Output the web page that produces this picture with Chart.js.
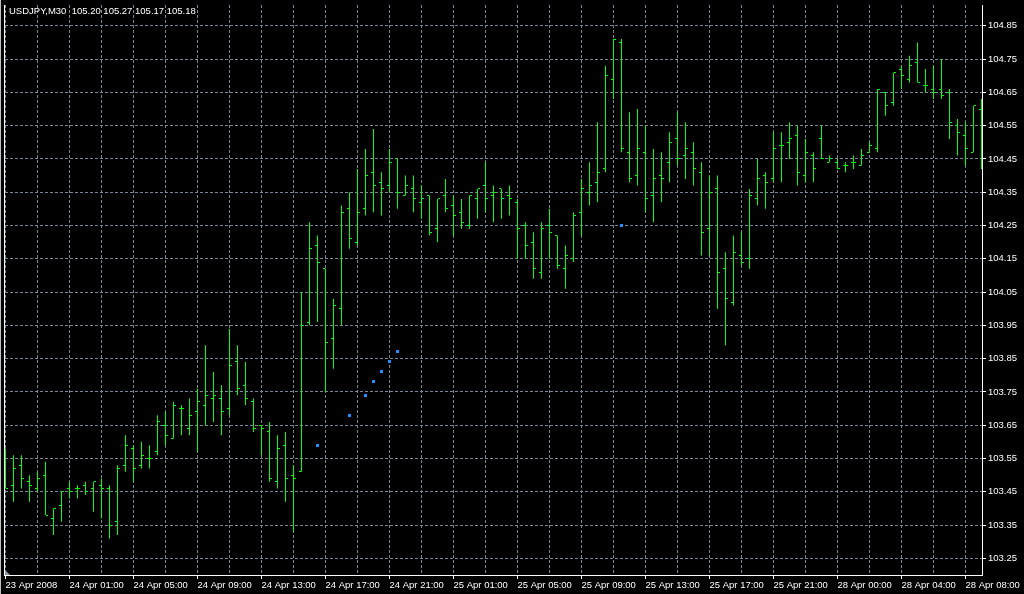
<!DOCTYPE html>
<html>
<head>
<meta charset="utf-8">
<title>USDJPY,M30</title>
<script src="https://cdn.jsdelivr.net/npm/chart.js@4.4.0/dist/chart.umd.min.js"></script>
<style>
  html, body { margin: 0; padding: 0; background: #000; }
  canvas { display: block; }
</style>
</head>
<body>
<canvas id="chart" width="1024" height="594"></canvas>
<script>
const symbolTitle = "USDJPY,M30  105.20 105.27 105.17 105.18";

// M30 bars, oldest first (23 Apr 21:00 ... 28 Apr 09:00)
const opens = [
  103.50, 103.47, 103.53, 103.48, 103.46, 103.50, 103.37, 103.41, 103.46, 103.46,
  103.47, 103.46, 103.47, 103.46, 103.36, 103.53, 103.58, 103.53, 103.55, 103.57,
  103.65, 103.61, 103.70, 103.64, 103.69, 103.71, 103.73, 103.73, 103.70, 103.84,
  103.77, 103.72, 103.65, 103.63, 103.48, 103.59, 103.50, 103.51, 103.96, 104.19,
  104.12, 103.91, 104.00, 104.30, 104.20, 104.30, 104.41, 104.38, 104.37, 104.45,
  104.34, 104.36, 104.32, 104.34, 104.24, 104.34, 104.31, 104.29, 104.25, 104.33,
  104.37, 104.34, 104.36, 104.34, 104.32, 104.25, 104.20, 104.11, 104.25, 104.22,
  104.12, 104.15, 104.29, 104.35, 104.38, 104.42, 104.69, 104.80, 104.47, 104.40,
  104.47, 104.34, 104.40, 104.44, 104.51, 104.46, 104.47, 104.41, 104.24, 104.36,
  104.12, 104.02, 104.16, 104.15, 104.33, 104.40, 104.39, 104.49, 104.50, 104.52,
  104.40, 104.46, 104.51, 104.44, 104.44, 104.43, 104.44, 104.43, 104.47, 104.48,
  104.65, 104.62, 104.72, 104.69, 104.74, 104.67, 104.66, 104.66, 104.65, 104.55,
  104.52, 104.47, 104.60
];
const highs = [
  103.58, 103.56, 103.56, 103.50, 103.51, 103.54, 103.40, 103.45, 103.48, 103.47,
  103.48, 103.48, 103.49, 103.47, 103.53, 103.62, 103.59, 103.60, 103.59, 103.68,
  103.69, 103.72, 103.71, 103.73, 103.76, 103.89, 103.81, 103.77, 103.94, 103.89,
  103.84, 103.73, 103.65, 103.66, 103.62, 103.63, 103.53, 104.05, 104.26, 104.22,
  104.12, 104.03, 104.31, 104.35, 104.42, 104.48, 104.54, 104.41, 104.48, 104.45,
  104.40, 104.40, 104.37, 104.34, 104.33, 104.39, 104.34, 104.33, 104.34, 104.36,
  104.44, 104.37, 104.36, 104.37, 104.33, 104.26, 104.23, 104.26, 104.30, 104.22,
  104.19, 104.29, 104.39, 104.44, 104.56, 104.73, 104.81, 104.81, 104.59, 104.60,
  104.55, 104.48, 104.47, 104.53, 104.59, 104.56, 104.50, 104.44, 104.40, 104.40,
  104.17, 104.22, 104.23, 104.36, 104.45, 104.41, 104.53, 104.53, 104.56, 104.55,
  104.51, 104.47, 104.55, 104.46, 104.45, 104.44, 104.46, 104.48, 104.50, 104.66,
  104.65, 104.71, 104.73, 104.76, 104.80, 104.72, 104.73, 104.75, 104.66, 104.57,
  104.56, 104.61, 104.63
];
const lows = [
  103.46, 103.42, 103.46, 103.42, 103.45, 103.38, 103.32, 103.36, 103.43, 103.43,
  103.44, 103.39, 103.37, 103.31, 103.32, 103.51, 103.48, 103.52, 103.52, 103.56,
  103.59, 103.61, 103.62, 103.62, 103.57, 103.65, 103.66, 103.62, 103.68, 103.74,
  103.71, 103.63, 103.56, 103.48, 103.46, 103.42, 103.33, 103.51, 103.95, 103.96,
  103.75, 103.82, 103.95, 104.18, 104.19, 104.28, 104.29, 104.28, 104.35, 104.30,
  104.34, 104.29, 104.27, 104.22, 104.20, 104.29, 104.22, 104.24, 104.24, 104.27,
  104.29, 104.26, 104.27, 104.28, 104.15, 104.15, 104.09, 104.09, 104.15, 104.12,
  104.06, 104.14, 104.22, 104.31, 104.32, 104.41, 104.63, 104.47, 104.38, 104.37,
  104.29, 104.26, 104.32, 104.38, 104.43, 104.39, 104.37, 104.16, 104.16, 104.00,
  103.89, 104.01, 104.13, 104.12, 104.31, 104.30, 104.38, 104.38, 104.45, 104.37,
  104.38, 104.38, 104.45, 104.44, 104.42, 104.41, 104.42, 104.43, 104.47, 104.47,
  104.58, 104.61, 104.66, 104.68, 104.68, 104.65, 104.63, 104.63, 104.51, 104.46,
  104.43, 104.47, 104.42
];
const closes = [
  103.46, 103.52, 103.49, 103.47, 103.49, 103.38, 103.40, 103.45, 103.45, 103.46,
  103.45, 103.48, 103.46, 103.35, 103.52, 103.59, 103.52, 103.56, 103.55, 103.66,
  103.62, 103.71, 103.70, 103.68, 103.72, 103.74, 103.74, 103.69, 103.83, 103.76,
  103.73, 103.64, 103.64, 103.49, 103.58, 103.49, 103.49, 103.95, 104.18, 104.14,
  103.90, 104.01, 104.29, 104.21, 104.29, 104.40, 104.37, 104.36, 104.44, 104.35,
  104.37, 104.33, 104.33, 104.23, 104.33, 104.30, 104.28, 104.26, 104.34, 104.36,
  104.33, 104.35, 104.33, 104.33, 104.24, 104.19, 104.12, 104.24, 104.23, 104.13,
  104.16, 104.28, 104.36, 104.37, 104.41, 104.70, 104.81, 104.48, 104.39, 104.48,
  104.33, 104.39, 104.39, 104.50, 104.45, 104.48, 104.42, 104.23, 104.35, 104.11,
  104.03, 104.17, 104.14, 104.34, 104.39, 104.38, 104.48, 104.49, 104.51, 104.41,
  104.47, 104.42, 104.45, 104.45, 104.42, 104.43, 104.44, 104.46, 104.49, 104.66,
  104.61, 104.71, 104.70, 104.73, 104.68, 104.67, 104.65, 104.64, 104.56, 104.53,
  104.48, 104.61, 104.60
];

// blue indicator dots (bar index, price)
const sarIndex = [39, 43, 45, 46, 47, 48, 49, 77];
const sarValues = [103.59, 103.68, 103.74, 103.78, 103.81, 103.84, 103.87, 104.25];

// one label every 8 bars (4 hours), grid every 4 bars
const timeLabels = [
  "23 Apr 2008", "24 Apr 01:00", "24 Apr 05:00", "24 Apr 09:00", "24 Apr 13:00",
  "24 Apr 17:00", "24 Apr 21:00", "25 Apr 01:00", "25 Apr 05:00", "25 Apr 09:00",
  "25 Apr 13:00", "25 Apr 17:00", "25 Apr 21:00", "28 Apr 00:00", "28 Apr 04:00",
  "28 Apr 08:00"
];
const priceTicks = [
  103.25, 103.35, 103.45, 103.55, 103.65, 103.75, 103.85, 103.95,
  104.05, 104.15, 104.25, 104.35, 104.45, 104.55, 104.65, 104.75, 104.85
];

const BAR_COLOR = "#00ff00";
const GRID_COLOR = "#778899";
const TEXT_FONT = { family: "'Liberation Sans', Arial, sans-serif", size: 9.5 };

// little sprites so open/close ticks stay 1px sharp
function makeSprite(w, h, fill) {
  const c = document.createElement("canvas");
  c.width = w; c.height = h;
  const g = c.getContext("2d");
  g.fillStyle = fill.color;
  g.fillRect(fill.x, 0, fill.w, h);
  return c;
}
const openTick = makeSprite(5, 1, { color: BAR_COLOR, x: 0, w: 2 });
const closeTick = makeSprite(5, 1, { color: BAR_COLOR, x: 3, w: 2 });
const sarDot = makeSprite(3, 3, { color: "#1e90ff", x: 0, w: 3 });

const rangeData = highs.map((h, i) => ({ x: i, y: [lows[i], h] }));
const openData = opens.map((v, i) => ({ x: i, y: v }));
const closeData = closes.map((v, i) => ({ x: i, y: v }));
const sarData = sarIndex.map((k, i) => ({ x: k, y: sarValues[i] }));

const chartFrame = {
  id: "chartFrame",
  beforeDraw(chart) {
    const ctx = chart.ctx;
    ctx.fillStyle = "#000";
    ctx.fillRect(0, 0, chart.width, chart.height);
    ctx.imageSmoothingEnabled = false;
  },
  afterDraw(chart) {
    const { ctx, chartArea } = chart;
    const left = chartArea.left - 1;
    ctx.save();
    // window edge + left frame line
    ctx.fillStyle = "#c0c0c0";
    ctx.fillRect(0, 0, 1, chart.height);
    ctx.fillStyle = "#fff";
    ctx.fillRect(left, chartArea.top, 1, chartArea.bottom - chartArea.top + 1);
    // chart shift marker
    ctx.fillStyle = "#8a9bb0";
    ctx.beginPath();
    ctx.moveTo(left + 1, chartArea.bottom - 5);
    ctx.lineTo(left + 1, chartArea.bottom);
    ctx.lineTo(left + 6, chartArea.bottom);
    ctx.closePath();
    ctx.fill();
    ctx.fillStyle = "#fff";
    ctx.font = TEXT_FONT.size + "px " + TEXT_FONT.family;
    ctx.textBaseline = "alphabetic";
    ctx.fillText(symbolTitle, 9, 14);
    ctx.restore();
  }
};

new Chart(document.getElementById("chart"), {
  type: "bar",
  data: {
    datasets: [
      { type: "bar", data: rangeData, backgroundColor: BAR_COLOR, borderWidth: 0, barThickness: 1, inflateAmount: 0, clip: 0 },
      { type: "scatter", data: openData, pointStyle: openTick, pointRadius: 2, clip: 0 },
      { type: "scatter", data: closeData, pointStyle: closeTick, pointRadius: 2, clip: 0 },
      { type: "scatter", data: sarData, pointStyle: sarDot, pointRadius: 2, clip: 0 }
    ]
  },
  options: {
    responsive: false,
    animation: false,
    events: [],
    layout: { padding: { left: 5, top: 0, right: 0, bottom: 0 } },
    plugins: { legend: { display: false }, tooltip: { enabled: false } },
    scales: {
      x: {
        type: "linear",
        offset: false,
        min: -0.0625,
        max: 122.0625,
        afterBuildTicks: (scale) => {
          const t = [];
          for (let k = 0; k <= 120; k += 4) t.push({ value: k });
          scale.ticks = t;
        },
        afterFit: (scale) => {
          scale.height = 19;
          scale.paddingLeft = 0;
          scale.paddingRight = 0;
        },
        ticks: {
          autoSkip: false,
          maxRotation: 0,
          align: "start",
          padding: 1,
          color: "#fff",
          font: TEXT_FONT,
          callback: (v) => (v % 8 === 0 ? timeLabels[v / 8] : "")
        },
        grid: {
          offset: false,
          color: GRID_COLOR,
          lineWidth: 1,
          tickLength: 4,
          tickColor: (ctx) => (ctx.tick && ctx.tick.value % 8 === 0 ? "#fff" : "rgba(0,0,0,0)")
        },
        border: { color: "#fff", width: 1, dash: [3, 2] }
      },
      y: {
        type: "linear",
        position: "right",
        min: 103.2,
        max: 104.9125,
        afterBuildTicks: (scale) => {
          scale.ticks = priceTicks.map((v) => ({ value: v }));
        },
        afterFit: (scale) => {
          scale.width = 42;
          scale.paddingTop = 0;
          scale.paddingBottom = 0;
        },
        ticks: {
          padding: 2,
          color: "#fff",
          font: TEXT_FONT,
          callback: (v) => v.toFixed(2)
        },
        grid: {
          color: GRID_COLOR,
          lineWidth: 1,
          tickLength: 4,
          tickColor: "#fff"
        },
        border: { color: "#fff", width: 1, dash: [3, 2] }
      }
    }
  },
  plugins: [chartFrame]
});
</script>
</body>
</html>
